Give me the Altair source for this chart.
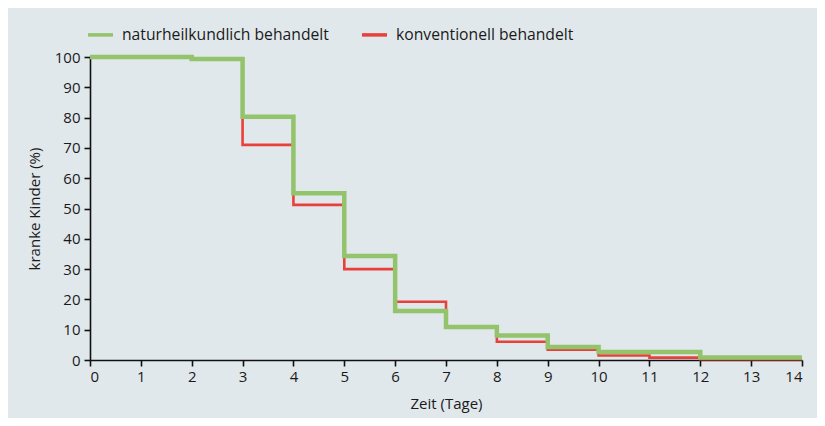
import altair as alt
import pandas as pd

days = list(range(0, 15))
natur = [100, 100, 99.3, 80.3, 55.0, 34.3, 16.2, 10.9, 8.1, 4.3, 2.6, 2.6, 0.8, 0.8, 0.8]
konv = [100, 100, 99.3, 71.0, 51.2, 30.0, 19.2, 10.9, 6.0, 3.4, 1.5, 0.8, 0.3, 0.3, 0.3]
series = ["naturheilkundlich behandelt", "konventionell behandelt"]
colors = ["#93c36a", "#e8403a"]

df_n = pd.DataFrame({"Tag": days, "Wert": natur, "Gruppe": series[0]})
df_k = pd.DataFrame({"Tag": days, "Wert": konv, "Gruppe": series[1]})

FONT = "Open Sans"

color = alt.Color(
    "Gruppe:N",
    scale=alt.Scale(domain=series, range=colors),
    legend=alt.Legend(
        title=None,
        orient="none",
        direction="horizontal",
        legendX=-4,
        legendY=-37,
        symbolType="stroke",
        symbolSize=625,
        symbolStrokeWidth=3.5,
        labelFontSize=15.7,
        labelFont=FONT,
        labelColor="#1a1a1a",
        labelOffset=7,
        labelLimit=0,
        columnPadding=26,
    ),
)

x = alt.X(
    "Tag:Q",
    scale=alt.Scale(domain=[0, 14], nice=False),
    axis=alt.Axis(values=days, title="Zeit (Tage)", grid=False, format="d"),
)
y = alt.Y(
    "Wert:Q",
    scale=alt.Scale(domain=[0, 100], nice=False),
    axis=alt.Axis(values=list(range(0, 101, 10)), title="kranke Kinder (%)", grid=False),
)

red = alt.Chart(df_k).mark_line(interpolate="step-after", strokeWidth=2.6).encode(x=x, y=y, color=color)
green = alt.Chart(df_n).mark_line(interpolate="step-after", strokeWidth=4.5).encode(x=x, y=y, color=color)

chart = (
    alt.layer(red, green)
    .properties(
        width=712,
        height=303,
        background="#e1e8ec",
        autosize=alt.AutoSizeParams(type="none"),
        padding={"left": 82, "top": 49, "right": 15, "bottom": 58},
    )
    .configure_view(stroke=None, fill="#e1e8ec")
    .configure_axis(
        labelFont=FONT,
        titleFont=FONT,
        labelFontSize=15,
        titleFontSize=15,
        titleFontWeight="normal",
        labelColor="#1a1a1a",
        titleColor="#1a1a1a",
        domainColor="#111111",
        domainWidth=1.6,
        tickColor="#111111",
        tickWidth=1.6,
        tickSize=6,
    )
    .configure_axisX(labelPadding=3, titlePadding=12)
    .configure_axisY(labelPadding=4, titlePadding=12)
)

chart.save("out.html", embed_options={"renderer": "svg", "actions": False})
